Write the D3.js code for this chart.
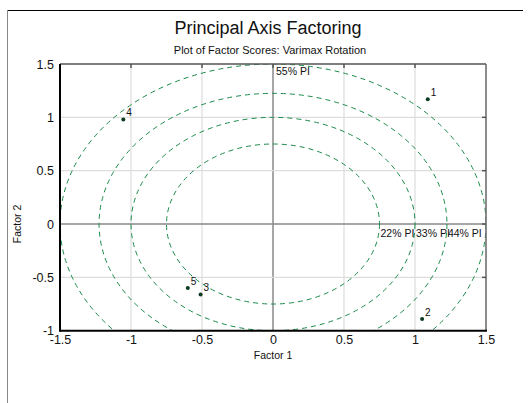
<!DOCTYPE html>
<html><head><meta charset="utf-8">
<script src="https://cdn.jsdelivr.net/npm/d3@7"></script>
<style>body{margin:0;background:#fff}svg{display:block;font-family:Arial,"Liberation Sans",sans-serif}</style>
</head><body>
<svg id="c" width="532" height="403"></svg>
<script>
const pointLabels = ["1","2","3","4","5"];
const factor1 = [1.09, 1.05, -0.51, -1.054, -0.60];
const factor2 = [1.17, -0.89, -0.66, 0.98, -0.60];
const ellipseLabels = ["22% PI","33% PI","44% PI","55% PI"];
const ellipseRadii = [0.75, 1.0, 1.225, 1.5];
const xTicks = [-1.5,-1,-0.5,0,0.5,1,1.5];
const yTicks = [-1,-0.5,0,0.5,1,1.5];

const svg = d3.select("#c");
const L=60,R=486,T=64,B=330.7;
const x = d3.scaleLinear().domain([-1.5,1.5]).range([L,R]);
const y = d3.scaleLinear().domain([-1,1.5]).range([B,T]);
const fmt = d => String(d);

// outer frame
svg.append("line").attr("x1",7).attr("x2",523).attr("y1",10.5).attr("y2",10.5).attr("stroke","#000").attr("stroke-width",1.2);
svg.append("line").attr("x1",7.5).attr("x2",7.5).attr("y1",10).attr("y2",403).attr("stroke","#888").attr("stroke-width",1);

svg.append("text").attr("x",268).attr("y",34).attr("text-anchor","middle").attr("font-size",18).attr("fill","#111").text("Principal Axis Factoring");
svg.append("text").attr("x",270).attr("y",54).attr("text-anchor","middle").attr("font-size",11).attr("fill","#111").text("Plot of Factor Scores: Varimax Rotation");

// grid
const g = svg.append("g");
xTicks.filter(d=>d>-1.5&&d<1.5).forEach(d=>{
  g.append("line").attr("x1",x(d)).attr("x2",x(d)).attr("y1",T).attr("y2",B)
   .attr("stroke",d===0?"#888":"#ddd").attr("stroke-width",d===0?1.5:1.2);
});
yTicks.filter(d=>d>-1&&d<1.5).forEach(d=>{
  g.append("line").attr("x1",L).attr("x2",R).attr("y1",y(d)).attr("y2",y(d))
   .attr("stroke",d===0?"#888":"#ddd").attr("stroke-width",d===0?1.5:1.2);
});

// ellipses clipped
svg.append("clipPath").attr("id","pc").append("rect").attr("x",L).attr("y",T).attr("width",R-L).attr("height",B-T);
svg.append("g").attr("clip-path","url(#pc)").selectAll("ellipse").data(ellipseRadii).join("ellipse")
  .attr("cx",x(0)).attr("cy",y(0))
  .attr("rx",d=>x(d)-x(0)).attr("ry",d=>y(0)-y(d))
  .attr("fill","none").attr("stroke","#1a8a4a").attr("stroke-width",1).attr("stroke-dasharray","5,4");

// ellipse labels
ellipseLabels.forEach((t,i)=>{
  const r = ellipseRadii[i];
  if (i<3) {
    svg.append("text").attr("x",x(r)+1).attr("y",y(0)+13).attr("font-size",10.5).attr("fill","#111").text(t);
  } else {
    svg.append("text").attr("x",x(0)+3).attr("y",y(1.5)+11).attr("font-size",10.5).attr("fill","#111").text(t);
  }
});

// frame
svg.append("line").attr("x1",L).attr("x2",R).attr("y1",T).attr("y2",T).attr("stroke","#555").attr("stroke-width",1.5);
svg.append("line").attr("x1",R).attr("x2",R).attr("y1",T).attr("y2",B).attr("stroke","#666").attr("stroke-width",1.5);
svg.append("line").attr("x1",L).attr("x2",R+1).attr("y1",B).attr("y2",B).attr("stroke","#000").attr("stroke-width",2);
svg.append("line").attr("x1",L).attr("x2",L).attr("y1",T).attr("y2",B+1).attr("stroke","#000").attr("stroke-width",2);

// axes ticks & labels
const xa = d3.axisBottom(x).tickValues(xTicks).tickSize(0).tickPadding(4).tickFormat(fmt);
svg.append("g").attr("transform",`translate(0,${B})`).call(xa)
  .call(s=>s.select(".domain").remove())
  .call(s=>s.selectAll("text").attr("font-size",12.5).attr("fill","#111").attr("font-family","Arial,'Liberation Sans',sans-serif"));
const ya = d3.axisLeft(y).tickValues(yTicks).tickSize(0).tickPadding(6).tickFormat(fmt);
svg.append("g").attr("transform",`translate(${L},0)`).call(ya)
  .call(s=>s.select(".domain").remove())
  .call(s=>s.selectAll("text").attr("font-size",12.5).attr("fill","#111").attr("font-family","Arial,'Liberation Sans',sans-serif"));

// small ticks on top and right
xTicks.filter(d=>d>-1.5&&d<1.5).forEach(d=>{
  svg.append("line").attr("x1",x(d)).attr("x2",x(d)).attr("y1",T).attr("y2",T+4).attr("stroke","#555").attr("stroke-width",1.5);
});
yTicks.filter(d=>d>-1&&d<1.5).forEach(d=>{
  svg.append("line").attr("x1",R-4).attr("x2",R).attr("y1",y(d)).attr("y2",y(d)).attr("stroke","#555").attr("stroke-width",1.5);
});

svg.append("text").attr("x",x(0)).attr("y",359).attr("text-anchor","middle").attr("font-size",10.5).attr("fill","#111").text("Factor 1");
svg.append("text").attr("transform",`translate(21,${y(0)}) rotate(-90)`).attr("text-anchor","middle").attr("font-size",10.5).attr("fill","#111").text("Factor 2");

// points
const pts = pointLabels.map((l,i)=>({l,x:factor1[i],y:factor2[i]}));
const pg = svg.append("g");
pg.selectAll("circle").data(pts).join("circle").attr("cx",d=>x(d.x)).attr("cy",d=>y(d.y)).attr("r",2).attr("fill","#0a3a20");
pg.selectAll("text").data(pts).join("text").attr("x",d=>x(d.x)+3).attr("y",d=>y(d.y)-3).attr("font-size",10).attr("fill","#111").text(d=>d.l);
</script>
</body></html>
